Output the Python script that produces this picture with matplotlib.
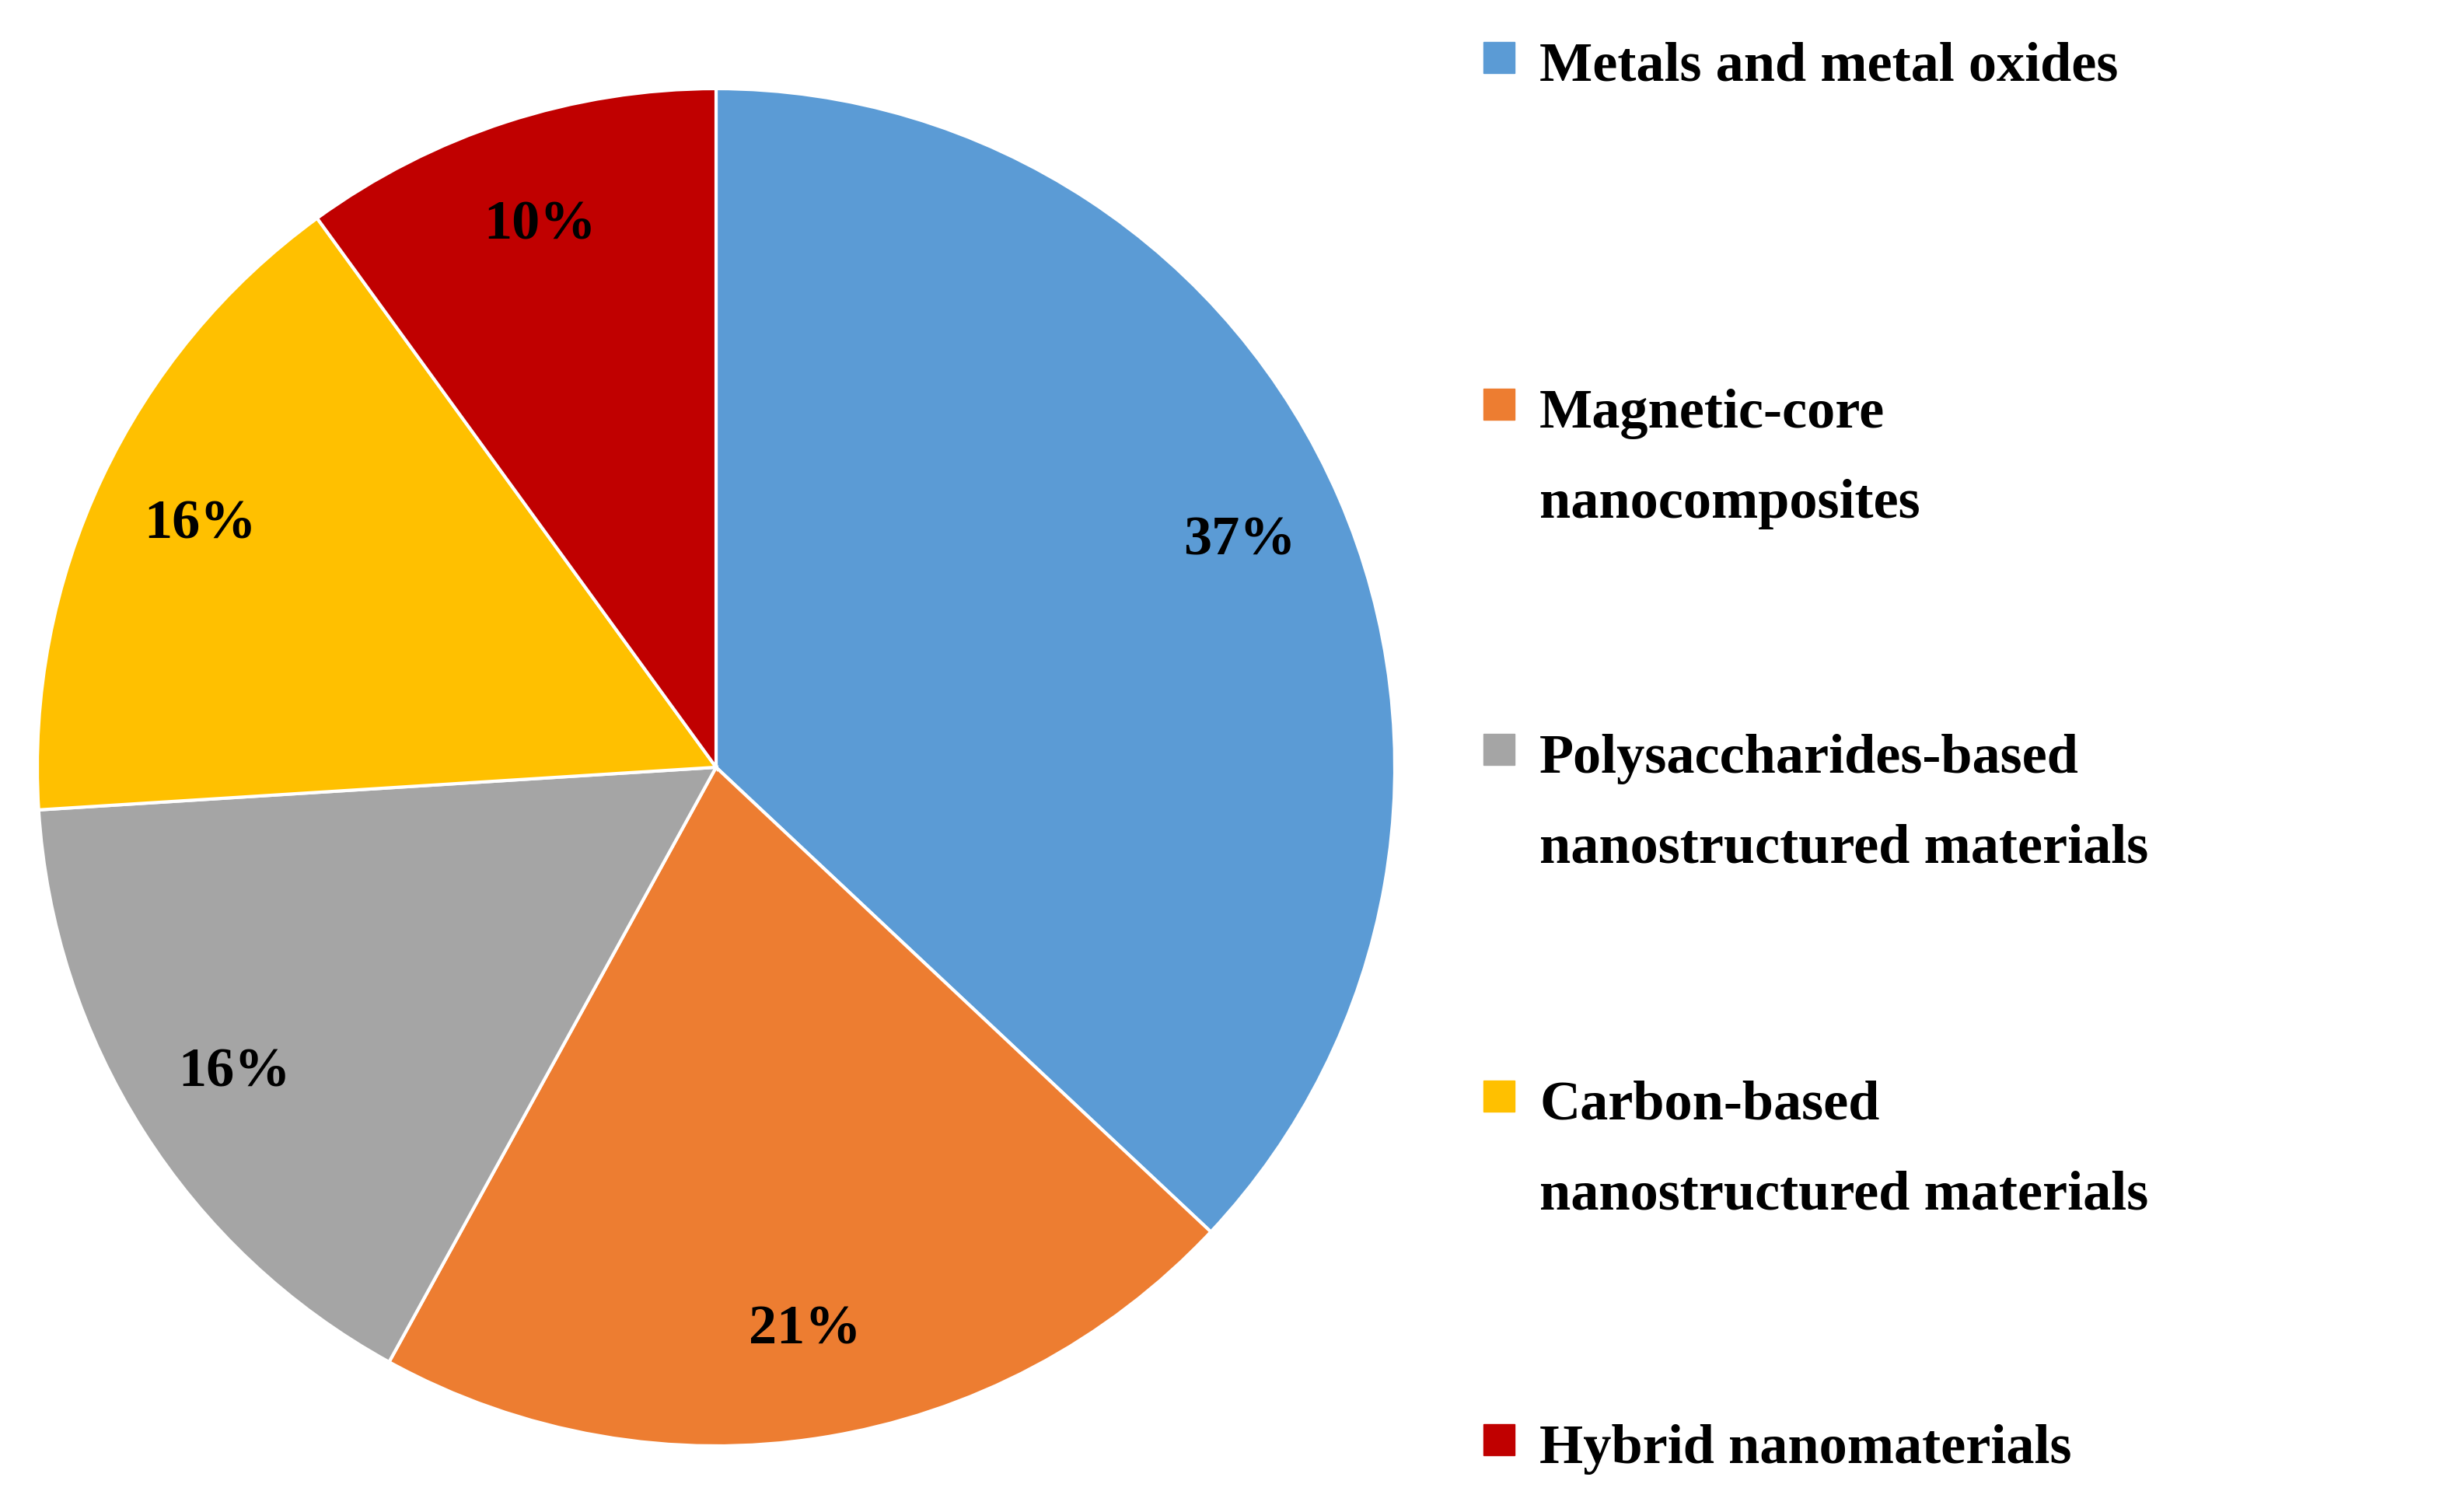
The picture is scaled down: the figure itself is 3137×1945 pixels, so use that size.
import matplotlib
matplotlib.use("Agg")
import matplotlib.pyplot as plt
from matplotlib.patches import Rectangle

categories = ["Metals and metal oxides", "Magnetic-core\nnanocomposites",
              "Polysaccharides-based\nnanostructured materials",
              "Carbon-based\nnanostructured materials", "Hybrid nanomaterials"]
shares = [37, 21, 16, 16, 10]
colors = ["#5B9BD5", "#ED7D31", "#A5A5A5", "#FFC000", "#C00000"]
legend_baselines_px = [104, 550, 994, 1440, 1882]  # first-line baseline, from top

W, H = 3137, 1945
fig = plt.figure(figsize=(W / 100, H / 100), dpi=100)
plt.rcParams["font.family"] = ["Liberation Serif", "DejaVu Serif"]

ax = fig.add_axes([48 / W, 1 - 1860 / H, 1746 / W, 1746 / H])
ax.pie(shares, colors=colors, startangle=90, counterclock=False,
       autopct="%d%%", pctdistance=0.84, radius=1.0,
       wedgeprops=dict(edgecolor="white", linewidth=3),
       textprops=dict(fontsize=52, fontweight="bold", color="black"))
ax.set_xlim(-1, 1)
ax.set_ylim(-1, 1)
ax.set_aspect("equal")
ax.axis("off")

for label, color, base in zip(categories, colors, legend_baselines_px):
    y = 1 - base / H
    fig.text(1980 / W, y, label, fontsize=52, fontweight="bold",
             va="baseline", ha="left", linespacing=1.15,
             transform=fig.transFigure) if "\n" not in label else None
    if "\n" in label:
        first, second = label.split("\n")
        fig.text(1980 / W, y, first, fontsize=52, fontweight="bold", va="baseline")
        fig.text(1980 / W, y - 116 / H, second, fontsize=52, fontweight="bold", va="baseline")
    sq = 40
    fig.patches.append(Rectangle((1908 / W, (H - base + 10) / H), sq / W, sq / H,
                                 transform=fig.transFigure, color=color))

fig.savefig("out.png", dpi=100)
